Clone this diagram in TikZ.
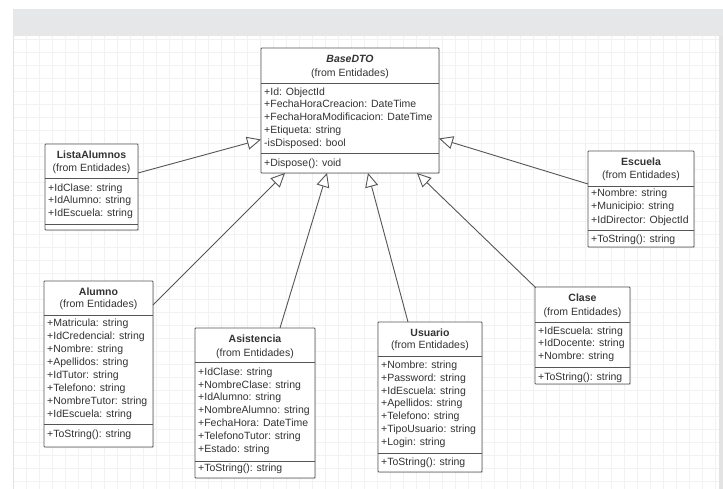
\documentclass[tikz,border=0pt]{standalone}
\usepackage{fontspec}
\setmainfont{Liberation Sans}
\usetikzlibrary{arrows.meta,shadows,fit}
\definecolor{band}{HTML}{E6E7E8}
\definecolor{gridc}{HTML}{F2F2F2}
\definecolor{edgec}{HTML}{E3E3E3}
\definecolor{boxline}{HTML}{555555}
\definecolor{txt}{HTML}{333333}
\tikzset{
  cls/.style={draw=boxline, line width=0.9pt, fill=white, inner sep=0pt, rounded corners=0.8pt,
    drop shadow={shadow xshift=1.2pt,shadow yshift=-1.2pt,opacity=0.18}},
  sepline/.style={draw=boxline, line width=0.8pt},
  title/.style={font=\fontsize{10.5}{12.8}\selectfont\bfseries, text=txt, inner sep=0pt, anchor=base},
  from/.style={font=\fontsize{10.5}{12.8}\selectfont, text=txt, inner sep=0pt, anchor=base},
  attr/.style={font=\fontsize{10.5}{12.8}\selectfont, text=txt, inner sep=0pt, anchor=base west},
  inh/.style={draw=boxline, line width=0.9pt, -{Triangle[open,length=14pt,width=13pt,fill=white]}},
}
\begin{document}
\begin{tikzpicture}[x=1pt,y=-1pt]
\useasboundingbox (0,0) rectangle (723,489);
% background
\fill[white] (0,0) rectangle (723,489);
\fill[band] (13,9) rectangle (723,36);
\draw[gridc, line width=0.5pt, step=13pt] (14,36) grid (719,489);
\fill[edgec] (12.5,36) rectangle (14,489);
\fill[edgec] (719,36) rectangle (723,489);

% ---------- BaseDTO ----------
\node[cls, fit={(261,48)(439,173)}] (base) {};
\draw[sepline] (261,83) -- (439,83);
\draw[sepline] (261,153) -- (439,153);
\node[title] (base-t) at (350,62.8) {\itshape BaseDTO};
\node[from] (base-f) at (350,76.2) {(from Entidades)};
\foreach \t [count=\i] in {{+Id: ObjectId},{+FechaHoraCreacion: DateTime},{+FechaHoraModificacion: DateTime},{+Etiqueta: string},{-isDisposed: bool}}
  \node[attr] (base-a\i) at ({264},{95.2+12.75*(\i-1)}) {\t};
\node[attr] (base-m1) at (264,166.8) {+Dispose(): void};

% ---------- ListaAlumnos ----------
\node[cls, fit={(45,144)(138,230)}] (lista) {};
\draw[sepline] (45,178) -- (138,178);
\draw[sepline] (45,224) -- (138,224);
\node[title] (lista-t) at (91.5,158.5) {ListaAlumnos};
\node[from] (lista-f) at (91.5,171.2) {(from Entidades)};
\foreach \t [count=\i] in {{+IdClase: string},{+IdAlumno: string},{+IdEscuela: string}}
  \node[attr] (lista-a\i) at ({48},{191.2+12.8*(\i-1)}) {\t};

% ---------- Escuela ----------
\node[cls, fit={(588,151)(694,247)}] (escuela) {};
\draw[sepline] (588,186) -- (694,186);
\draw[sepline] (588,230) -- (694,230);
\node[title] (escuela-t) at (641,165.8) {Escuela};
\node[from] (escuela-f) at (641,178.5) {(from Entidades)};
\foreach \t [count=\i] in {{+Nombre: string},{+Municipio: string},{+IdDirector: ObjectId}}
  \node[attr] (escuela-a\i) at ({591},{196.9+13.1*(\i-1)}) {\t};
\node[attr] (escuela-m1) at (591,242.8) {+ToString(): string};

% ---------- Alumno ----------
\node[cls, fit={(44,281)(153,447)}] (alumno) {};
\draw[sepline] (44,315) -- (153,315);
\draw[sepline] (44,424) -- (153,424);
\node[title] (alumno-t) at (98.5,295.8) {Alumno};
\node[from] (alumno-f) at (98.5,307.8) {(from Entidades)};
\foreach \t [count=\i] in {{+Matricula: string},{+IdCredencial: string},{+Nombre: string},{+Apellidos: string},{+IdTutor: string},{+Telefono: string},{+NombreTutor: string},{+IdEscuela: string}}
  \node[attr] (alumno-a\i) at ({47},{326.8+12.95*(\i-1)}) {\t};
\node[attr] (alumno-m1) at (47,437.5) {+ToString(): string};

% ---------- Asistencia ----------
\node[cls, fit={(195,328)(315,478)}] (asist) {};
\draw[sepline] (195,362) -- (315,362);
\draw[sepline] (195,461) -- (315,461);
\node[title] (asist-t) at (255,342.8) {Asistencia};
\node[from] (asist-f) at (255,356.8) {(from Entidades)};
\foreach \t [count=\i] in {{+IdClase: string},{+NombreClase: string},{+IdAlumno: string},{+NombreAlumno: string},{+FechaHora: DateTime},{+TelefonoTutor: string},{+Estado: string}}
  \node[attr] (asist-a\i) at ({198},{375.2+12.8*(\i-1)}) {\t};
\node[attr] (asist-m1) at (198,471.2) {+ToString(): string};

% ---------- Usuario ----------
\node[cls, fit={(378,322)(482,472)}] (usuario) {};
\draw[sepline] (378,356) -- (482,356);
\draw[sepline] (378,453) -- (482,453);
\node[title] (usuario-t) at (430,336.2) {Usuario};
\node[from] (usuario-f) at (430,348.5) {(from Entidades)};
\foreach \t [count=\i] in {{+Nombre: string},{+Password: string},{+IdEscuela: string},{+Apellidos: string},{+Telefono: string},{+TipoUsuario: string},{+Login: string}}
  \node[attr] (usuario-a\i) at ({381},{368.5+12.78*(\i-1)}) {\t};
\node[attr] (usuario-m1) at (381,465.2) {+ToString(): string};

% ---------- Clase ----------
\node[cls, fit={(535,287)(630,384)}] (clase) {};
\draw[sepline] (535,322) -- (630,322);
\draw[sepline] (535,367) -- (630,367);
\node[title] (clase-t) at (582.5,301.8) {Clase};
\node[from] (clase-f) at (582.5,315.2) {(from Entidades)};
\foreach \t [count=\i] in {{+IdEscuela: string},{+IdDocente: string},{+Nombre: string}}
  \node[attr] (clase-a\i) at ({538},{334.2+12.67*(\i-1)}) {\t};
\node[attr] (clase-m1) at (538,380.2) {+ToString(): string};

% ---------- connector ends ----------
\coordinate (lista-out) at (138,173);
\coordinate (escuela-out) at (588,184);
\coordinate (alumno-out) at (153,305);
\coordinate (asist-out) at (280,328);
\coordinate (usuario-out) at (408,322);
\coordinate (clase-out) at (535.5,287.5);
\coordinate (base-in1) at (261,139.5);
\coordinate (base-in2) at (439,138.5);
\coordinate (base-in3) at (285,173);
\coordinate (base-in4) at (327,173);
\coordinate (base-in5) at (368,173);
\coordinate (base-in6) at (417,173);

\draw[inh] (lista-out) -- (base-in1);
\draw[inh] (escuela-out) -- (base-in2);
\draw[inh] (alumno-out) -- (base-in3);
\draw[inh] (asist-out) -- (base-in4);
\draw[inh] (usuario-out) -- (base-in5);
\draw[inh] (clase-out) -- (base-in6);
\end{tikzpicture}
\end{document}
